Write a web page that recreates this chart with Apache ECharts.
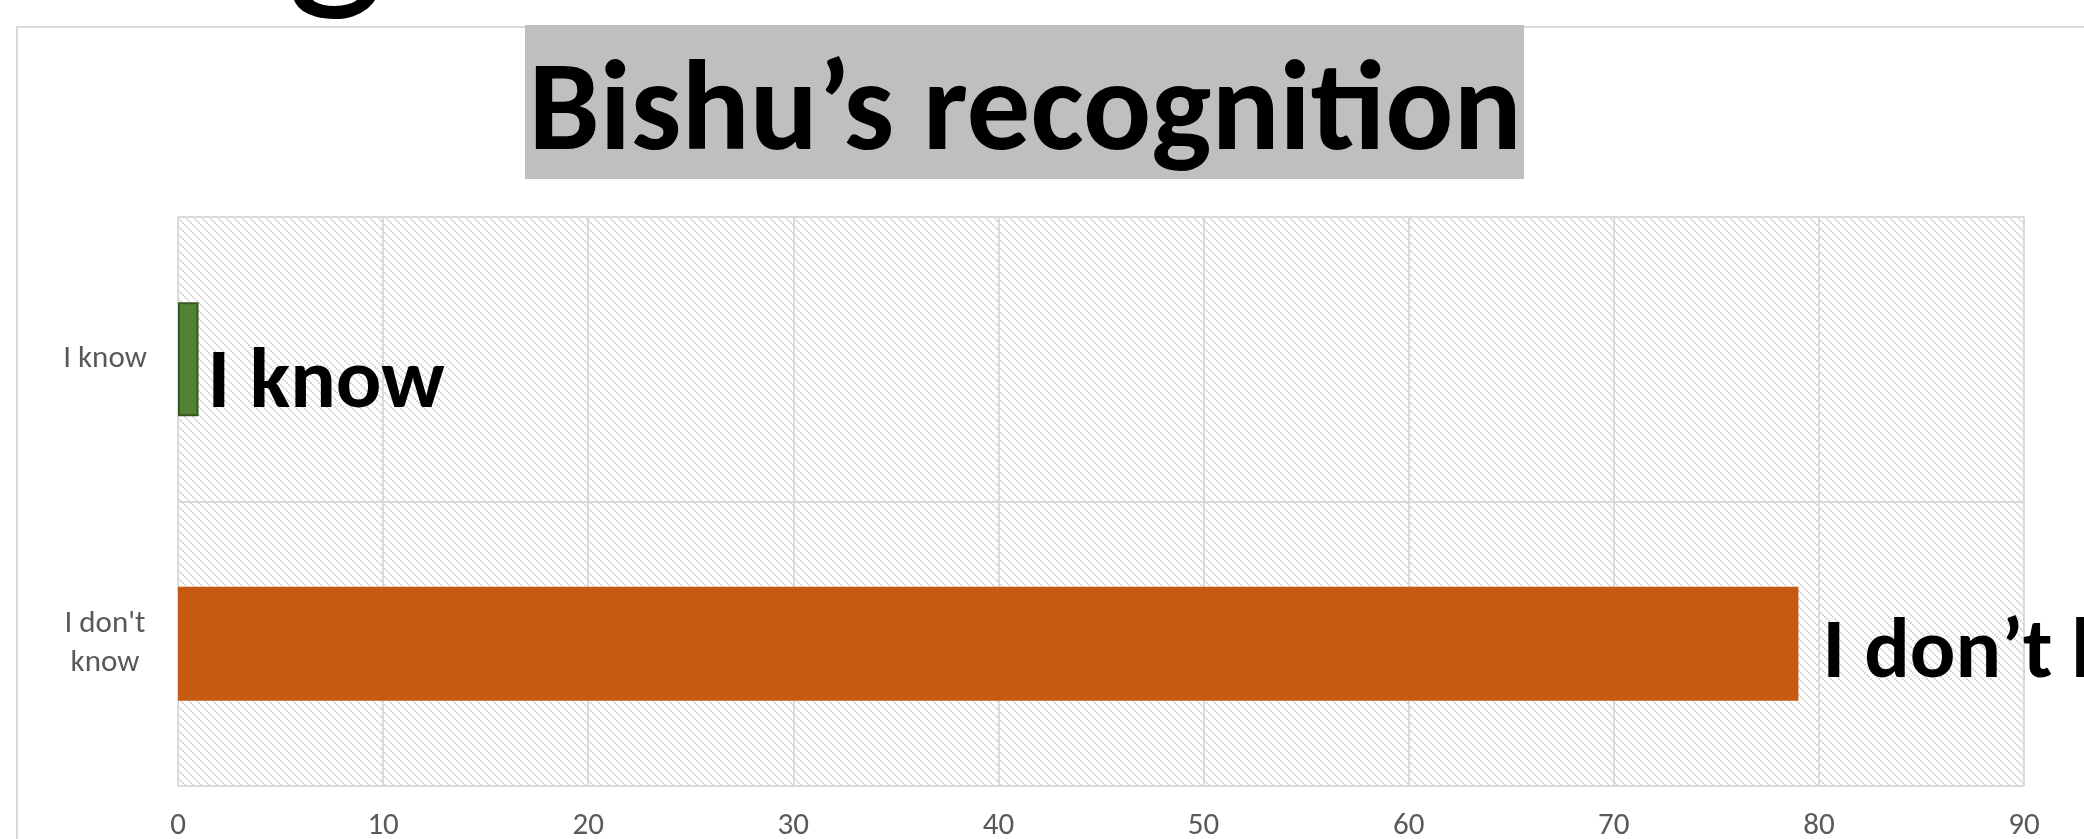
<!DOCTYPE html>
<html>
<head>
<meta charset="utf-8">
<title>Bishu's recognition</title>
<script src="https://cdn.jsdelivr.net/npm/echarts@6/dist/echarts.min.js"></script>
<style>
  html, body { margin: 0; padding: 0; background: #fff; }
  #chart { width: 2084px; height: 839px; }
</style>
</head>
<body>
<div id="chart"></div>
<script>
  var titleText = 'Bishu\u2019s recognition'
  var categories = ['I know', "I don't know"]
  var values = [1, 79]
  var labelTexts = ['I know', 'I don\u2019t know']
  var barColors = ['#548235', '#C55A11']
  var xTicks = { min: 0, max: 90, interval: 10 }

  // hatch fill like the excel pattern (downward diagonal)
  function hatch() {
    var c = document.createElement('canvas')
    c.width = 8
    c.height = 8
    var ctx = c.getContext('2d')
    ctx.fillStyle = '#ffffff'
    ctx.fillRect(0, 0, 8, 8)
    ctx.fillStyle = '#D9D9D9'
    for (var i = 0; i < 4; i++) {
      ctx.fillRect(i * 2, i * 2, 2, 2)
    }
    return c
  }

  var chart = echarts.init(document.getElementById('chart'))
  var font = 'Carlito, Lato, sans-serif'

  var data = values.map(function (v, i) {
    var item = {
      value: v,
      itemStyle: { color: barColors[i] },
      label: { formatter: labelTexts[i] }
    }
    if (i === 0) {
      item.itemStyle.borderColor = '#385723'
      item.itemStyle.borderWidth = 2
      item.label.offset = [5, 26]
    } else {
      item.label.offset = [20, 12]
    }
    return item
  })

  var option = {
    animation: false,
    backgroundColor: '#ffffff',
    graphic: [
      // outer chart border
      {
        type: 'rect',
        z: 0,
        shape: { x: 17, y: 27, width: 2300, height: 1000 },
        style: { fill: 'transparent', stroke: '#D9D9D9', lineWidth: 2 }
      },
      // descender of the heading above
      {
        type: 'text',
        z: 1,
        style: {
          text: 'g',
          x: 286,
          y: -175,
          fill: '#000',
          font: '210px ' + font,
          verticalAlign: 'top'
        }
      },
      {
        type: 'rect',
        z: 2,
        shape: { x: 525, y: 25, width: 999, height: 154 },
        style: { fill: '#BFBFBF' }
      },
      {
        type: 'text',
        z: 3,
        style: {
          text: titleText,
          x: 1025,
          y: 117,
          fill: '#000',
          font: 'bold 127px ' + font,
          align: 'center',
          verticalAlign: 'middle'
        }
      }
    ],
    grid: {
      left: 178,
      top: 217,
      right: 60,
      bottom: 53,
      outerBoundsMode: 'none',
      show: true,
      borderWidth: 0,
      backgroundColor: { image: hatch(), repeat: 'repeat' }
    },
    xAxis: {
      type: 'value',
      min: xTicks.min,
      max: xTicks.max,
      interval: xTicks.interval,
      axisLine: { show: false },
      axisTick: { show: false },
      axisLabel: {
        color: '#595959',
        fontFamily: font,
        fontSize: 31,
        margin: 25
      },
      splitLine: { show: true, lineStyle: { color: '#D9D9D9', width: 2 } }
    },
    yAxis: {
      type: 'category',
      inverse: true,
      data: categories,
      axisLine: { show: false },
      axisTick: { show: false },
      axisLabel: {
        color: '#595959',
        fontFamily: font,
        fontSize: 31,
        lineHeight: 39,
        align: 'center',
        margin: 73,
        formatter: function (v) {
          return v === "I don't know" ? "I don't\nknow" : v
        }
      },
      splitLine: { show: true, lineStyle: { color: '#D9D9D9', width: 2 } }
    },
    series: [{
      type: 'bar',
      barWidth: '40%',
      data: data,
      label: {
        show: true,
        position: 'right',
        distance: 4,
        color: '#000',
        fontFamily: font,
        fontWeight: 'bold',
        fontSize: 85
      }
    }]
  }

  chart.setOption(option)
</script>
</body>
</html>
